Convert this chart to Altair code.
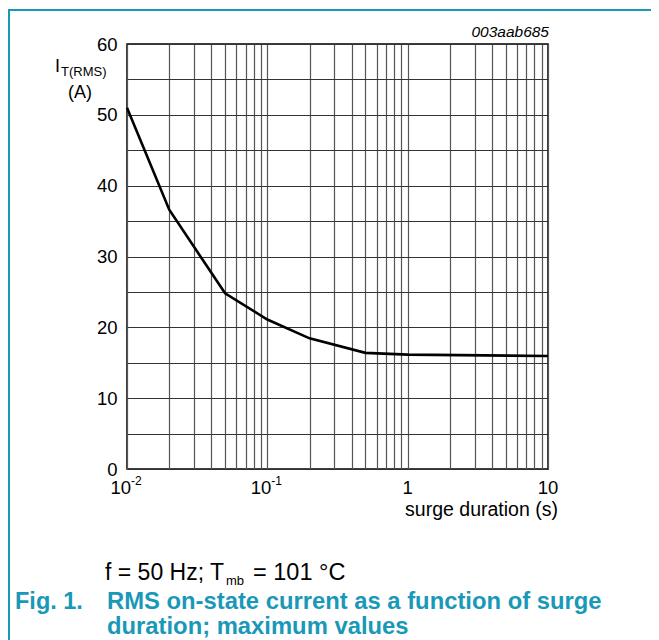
import altair as alt
import pandas as pd

# data
duration = [0.01, 0.02, 0.05, 0.1, 0.2, 0.5, 1, 10]
current = [51.0, 36.6, 24.8, 21.1, 18.45, 16.4, 16.15, 15.95]

x_grid = [m * 10.0 ** e for e in (-2, -1, 0) for m in range(1, 10)] + [10.0]
y_grid = list(range(0, 61, 5))

x_tick_vals = [0.01, 0.1, 1, 10]
x_tick_base = ["10", "10", "1", "10"]
x_tick_sup = ["-2", "-1", "", ""]

W, H = 421, 425
FONT = "Liberation Sans"
TEAL = "#1a98b7"

df = pd.DataFrame({"t": duration, "i": current})
ticks = pd.DataFrame({"t": x_tick_vals, "base": x_tick_base, "sup": x_tick_sup})

xscale = alt.Scale(type="log", domain=[0.01, 10], nice=False)
yscale = alt.Scale(domain=[0, 60], nice=False)

base = alt.Chart(df)

line = base.mark_line(color="black", strokeWidth=2.6).encode(
    x=alt.X("t:Q", scale=xscale,
            axis=alt.Axis(values=x_grid, grid=True, gridColor="#555555",
                          gridWidth=1.2, gridOpacity=1, labels=False,
                          ticks=False, domain=False, title=None)),
    y=alt.Y("i:Q", scale=yscale,
            axis=alt.Axis(values=y_grid, grid=True, gridColor="#333333",
                          gridWidth=1, gridOpacity=1, ticks=False,
                          domain=False, title=None, labelFont=FONT,
                          labelFontSize=18.5, labelColor="black",
                          labelPadding=10,
                          labelExpr="datum.value % 10 == 0 ? datum.label : ''")),
)

tick_base_plain = alt.Chart(ticks).transform_filter("datum.sup == ''").mark_text(
    font=FONT, fontSize=18.5, color="black", align="center", baseline="alphabetic"
).encode(x=alt.X("t:Q", scale=xscale), y=alt.value(H + 25), text="base:N")

tick_base_sup = alt.Chart(ticks).transform_filter("datum.sup != ''").mark_text(
    font=FONT, fontSize=18.5, color="black", align="right", baseline="alphabetic", dx=4
).encode(x=alt.X("t:Q", scale=xscale), y=alt.value(H + 25), text="base:N")

tick_sup = alt.Chart(ticks).transform_filter("datum.sup != ''").mark_text(
    font=FONT, fontSize=12, color="black", align="left", baseline="alphabetic", dx=4
).encode(x=alt.X("t:Q", scale=xscale), y=alt.value(H + 16), text="sup:N")


def label(txt, x, y, size=18, align="left", color="black", weight="normal", style="normal"):
    return alt.Chart(pd.DataFrame({"a": [0]})).mark_text(
        text=txt, font=FONT, fontSize=size, align=align, baseline="alphabetic",
        color=color, fontWeight=weight, fontStyle=style
    ).encode(x=alt.value(x), y=alt.value(y))


texts = [
    label("surge duration (s)", 481.5 - 127, 516 - 44, size=19.5, align="center"),
    label("I", 55 - 127, 72 - 44),
    label("T(RMS)", 61 - 127, 76 - 44, size=13),
    label("(A)", 80 - 127, 98 - 44, align="center"),
    label("003aab685", 549 - 127, 37 - 44, size=15.5, align="right", style="italic"),
    label("f = 50 Hz; T", 105 - 127, 580 - 44, size=23),
    label("mb", 226 - 127, 585 - 44, size=13),
    label("= 101 °C", 253 - 127, 580 - 44, size=23.5),
    label("Fig. 1.", 15 - 127, 609 - 44, size=23.5, color=TEAL, weight="bold"),
    label("RMS on-state current as a function of surge", 107 - 127, 609 - 44,
          size=23.8, color=TEAL, weight="bold"),
    label("duration; maximum values", 107 - 127, 634 - 44,
          size=23.8, color=TEAL, weight="bold"),
]

border_top = alt.Chart(pd.DataFrame({"a": [0]})).mark_rule(
    color=TEAL, strokeWidth=2).encode(x=alt.value(-119), x2=alt.value(540), y=alt.value(-34))
border_left = alt.Chart(pd.DataFrame({"a": [0]})).mark_rule(
    color=TEAL, strokeWidth=2).encode(x=alt.value(-118), y=alt.value(-35), y2=alt.value(620))

chart = alt.layer(
    line, tick_base_plain, tick_base_sup, tick_sup, border_top, border_left, *texts
).properties(
    width=W, height=H,
    autosize=alt.AutoSizeParams(type="none"),
    padding={"left": 119, "top": 36, "right": 103, "bottom": 190},
    background="white",
).configure_view(stroke="black", strokeWidth=1.5)

chart.save("out.html", embed_options={"renderer": "svg", "actions": False})
